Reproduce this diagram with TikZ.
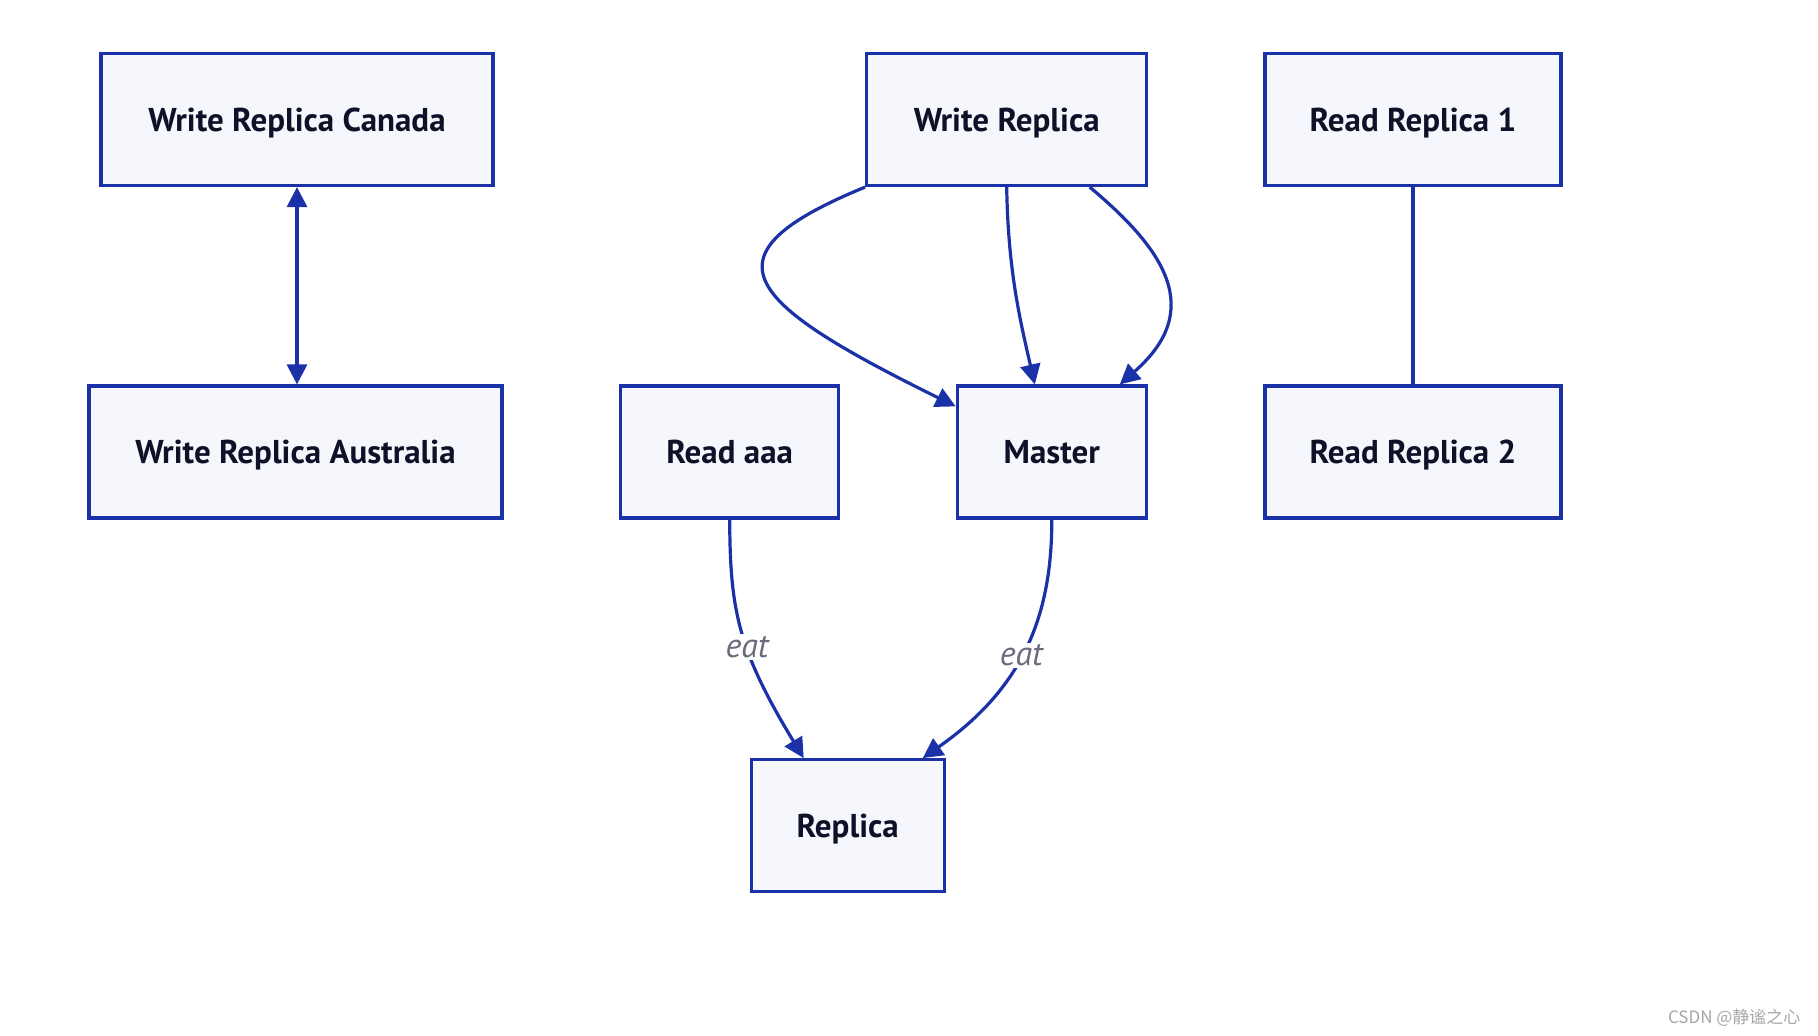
\documentclass[tikz,border=0pt]{standalone}
\usepackage{fontspec}
\setmainfont{PT Sans}
\newfontfamily\cjkfont{Noto Sans CJK SC}
\usetikzlibrary{arrows.meta}
\definecolor{edgeblue}{HTML}{1B31A8}
\definecolor{boxfill}{HTML}{F6F7FC}
\definecolor{txtdark}{HTML}{0E1228}
\definecolor{lblgray}{HTML}{6A6C7C}
\tikzset{
  box/.style={draw=edgeblue, line width=3.2pt, fill=boxfill, text=txtdark,
    font=\fontsize{33}{40}\selectfont\bfseries, minimum height=132pt, inner sep=0pt,
    text height=23pt, text depth=0pt},
  conn/.style={draw=edgeblue, line width=3.2pt},
  arr/.style={conn, -{Triangle[length=20pt,width=20pt]}},
  lbl/.style={fill=white, text=lblgray, font=\fontsize{34}{40}\selectfont\itshape, inner sep=2pt}
}
\begin{document}
\begin{tikzpicture}[x=1pt,y=-1pt]
\useasboundingbox (0,0) rectangle (1818,1036);
\node[box, minimum width=392pt] (canada) at (297,119.5) {Write Replica Canada};
\node[box, minimum width=413pt] (aus) at (295.5,452) {Write Replica Australia};
\node[box, minimum width=280pt] (wr) at (1006.7,119.5) {Write Replica};
\node[box, minimum width=296pt] (rr1) at (1413,119.5) {Read Replica 1};
\node[box, minimum width=296pt] (rr2) at (1413,452) {Read Replica 2};
\node[box, minimum width=218pt] (aaa) at (729.7,452) {Read aaa};
\node[box, minimum width=189pt] (master) at (1051.8,452) {Master};
\node[box, minimum width=193pt] (replica) at (847.7,825.7) {Replica};

\draw[conn, {Triangle[length=20pt,width=20pt]}-{Triangle[length=20pt,width=20pt]}] (canada.south) -- (canada.south |- aus.north);
\draw[conn] (rr1) -- (rr2);

\draw[arr] (wr.south west) .. controls (700,255) and (740,300) .. ([yshift=-22pt]master.north west);
\draw[arr] (wr.south) .. controls (1008,270) and (1020,320) .. ([xshift=-17pt]master.north);
\draw[arr] ([xshift=83pt]wr.south) .. controls (1165,250) and (1205,310) .. ([xshift=68pt]master.north);

\draw[arr] (aaa.south) .. controls (730,610) and (738,650) .. node[lbl, pos=0.57] (l1) {eat} ([xshift=-44pt]replica.north);
\draw[arr] (master.south) .. controls (1052,620) and (1020,690) .. node[lbl, pos=0.52] (l2) {eat} ([xshift=75pt]replica.north);

\node[text=black!35, font=\cjkfont\fontsize{17}{20}\selectfont, anchor=east] (wm) at (1804,1018) {CSDN @静谧之心};
\end{tikzpicture}
\end{document}
